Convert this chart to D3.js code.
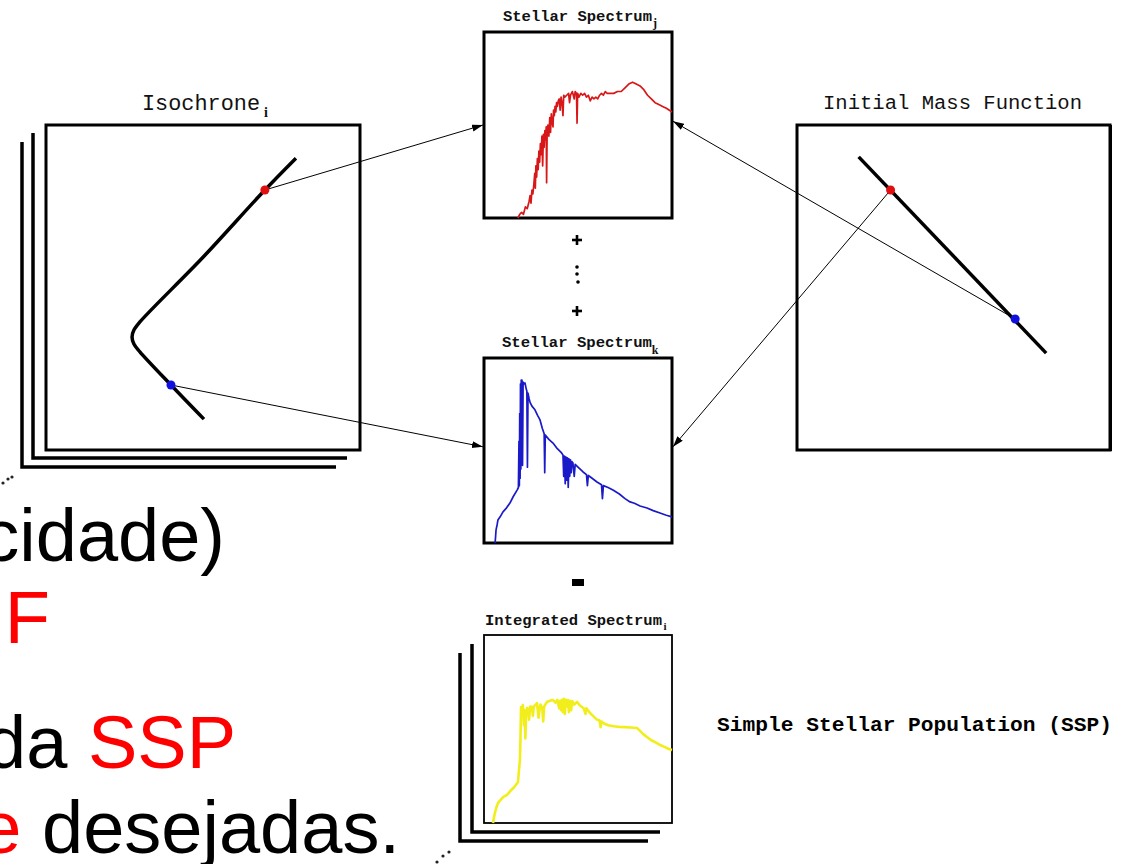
<!DOCTYPE html>
<html><head><meta charset="utf-8">
<script src="https://cdn.jsdelivr.net/npm/d3@7"></script>
<style>html,body{margin:0;padding:0;background:#fff;overflow:hidden}</style>
</head><body>
<svg id="c" width="1121" height="864"></svg>
<script>
// ---------- data (panel-local units 0..100) ----------
const redSpectrum = [[18,0],[19,2],[20,3],[21,2],[22,6],[23,5],[24,9],[24.5,12],[25,8],[25.5,15],[26,13],[26.5,18],[27,24],[27.3,16],[27.6,28],[28,22],[28.4,32],[28.8,26],[29.2,36],[29.6,30],[30,40],[30.4,34],[30.8,44],[31.2,28],[31.6,45],[32,38],[32.4,47],[32.8,42],[33.1,49],[33.3,19],[33.6,48],[34,50],[34.5,44],[35,54],[35.4,46],[35.8,56],[36.2,52],[36.7,49],[37,58],[37.4,55],[37.8,60],[38.2,57],[38.6,62],[39,60],[39.5,63],[40,64],[40.5,58],[41,65],[41.5,62],[42,55],[42.4,66],[43,65],[44,66],[45,67],[45.5,62],[46,66],[47,68],[48,64],[48.5,68],[49.2,67],[49.5,51],[49.8,67],[50.5,65],[51.5,67],[52.5,66],[53.5,67],[54.5,65],[55.5,66],[56.5,63],[57.5,65],[58.5,64],[59.5,65],[60.5,64],[61.5,66],[62.5,67],[63.5,66],[64.5,68],[65.5,67],[67,67],[69,67],[71,68],[73,68],[75,70],[77,72],[79,73],[81,72],[83,71],[85,69],[87,66],[89,64],[91,62],[93,61],[95,60],[97,59],[100,57]];

const blueSpectrum = [[5.9,0],[6.2,4],[6.4,7],[7,10],[7.4,12.4],[8.5,14],[10.1,16.8],[12,19],[13.8,21.6],[15.5,25],[17.6,28.6],[18.3,30],[18.6,55],[18.8,31],[19,70],[19.2,35],[19.4,86],[19.6,40],[19.8,88],[20,45],[20.2,88],[20.5,42],[20.8,87],[21.2,86],[21.8,86.5],[22.3,84],[22.8,82],[23.1,41],[23.4,81],[24,78],[24.5,76],[25.5,74],[27.1,72],[28.5,69],[29.8,66.5],[31,62],[32,59],[32.3,38],[32.6,58.4],[34.5,56],[36.7,54],[39,51],[41,49],[42,47.6],[42.4,36],[42.8,47],[43.2,32],[43.6,46.5],[44,34],[44.4,46],[44.8,30],[45.2,45.5],[45.6,36],[46,45],[46.4,38],[46.8,44],[47.3,43.2],[48,36],[48.5,42.5],[50,41],[52.7,38.4],[54.5,37],[55,31],[55.5,36.5],[57.5,35],[60.1,33],[62.5,31.5],[63,24],[63.5,31],[66,30],[68.6,28.6],[72,26.5],[75,24],[77.7,22.2],[80,21.5],[83,20],[86.7,18.9],[90,17.5],[93.6,16.2],[97,15],[100,14.1]];

const yellowSpectrum = [[4.8,0],[5.5,4],[6.5,8],[7.4,10.6],[9,12.5],[10.5,14],[12.2,14.9],[14,17],[16,19],[18.1,21.8],[18.6,28],[19.1,33.5],[19.4,45],[19.7,61.7],[20.2,60],[20.7,62.8],[21.2,52],[21.6,60],[22,45],[22.4,58],[22.9,61.2],[23.5,60],[24,55],[24.5,62],[25.5,61.7],[26,57],[26.5,62],[27.5,63],[28.2,63.8],[29,56],[29.5,60],[30,63],[31,61],[31.5,54],[32,62],[33.5,64.4],[35,65],[36.7,65.4],[38,64],[39,65.5],[40,61],[40.5,65],[41,60],[41.5,65.5],[42,59],[42.5,66],[43,58],[43.5,65.5],[44.1,62],[44.6,65.4],[45.2,59],[45.7,65],[46.3,60],[47,64.8],[48,63],[49.5,64.4],[51,62.5],[53,61],[54,58],[54.5,61],[56.4,58.5],[58,57],[60,55],[61.5,54.5],[62,51],[62.5,54],[63.3,53.2],[66,52],[69,51.5],[72.3,51.1],[75,51],[78,50.8],[81.4,50.5],[83,49],[85,47],[86.7,45.7],[89,44],[91,43],[93.6,41.5],[96,40.5],[98,39.5],[100,38.8]];

const isochroneCurve = [[79.6,89.8],[69.7,80.0],[50,59.3],[29.9,39.4],[28.0,36.9],[27.4,34.8],[28.0,32.6],[29.9,30.2],[39.8,20.0],[50.3,9.5]];
const imfLine = [[19.7,90.2],[79.6,29.8]];
const isoStars = [{x:69.7,y:80.0,c:"#e01010"},{x:39.8,y:20.0,c:"#1010e0"}];
const imfStars = [{x:29.9,y:80.0,c:"#e01010"},{x:69.7,y:40.3,c:"#1010e0"}];

const panelTitles = ["Isochrone","Initial Mass Function","Stellar Spectrum","Stellar Spectrum","Integrated Spectrum"];
const panelSubs = ["i","","j","k","i"];
const captionText = "Simple Stellar Population (SSP)";
const slideLines = [
  [{t:"cidade)",c:"#000"}],
  [{t:"F",c:"#ff0000"}],
  [{t:"da ",c:"#000"},{t:"SSP",c:"#ff0000"}],
  [{t:"e",c:"#ff0000"},{t:" desejadas.",c:"#000"}]
];

// ---------- layout ----------
const svg = d3.select("#c");
const P = {
  iso:  {x:46, y:125, w:314, h:325},
  imf:  {x:797,y:125, w:313, h:325},
  specJ:{x:484,y:32,  w:188, h:186},
  specK:{x:484,y:358, w:188, h:185},
  integ:{x:484,y:635, w:188, h:188}
};
function scales(p){
  return {x:d3.scaleLinear().domain([0,100]).range([p.x,p.x+p.w]),
          y:d3.scaleLinear().domain([0,100]).range([p.y+p.h,p.y])};
}
const S = {}; for (const k in P) S[k] = scales(P[k]);

svg.append("defs").append("marker").attr("id","ah")
  .attr("markerUnits","userSpaceOnUse").attr("markerWidth",12).attr("markerHeight",8)
  .attr("refX",11).attr("refY",3.5).attr("orient","auto")
  .append("path").attr("d","M0,0L11,3.5L0,7Z").attr("fill","#000");

function stack(p, layers, sw){
  layers.forEach(([dx,dy])=>{
    svg.append("path").attr("fill","none").attr("stroke","#000").attr("stroke-width",sw)
      .attr("d",`M${p.x+dx},${p.y+dy}L${p.x+dx},${p.y+p.h+dy}L${p.x+p.w+dx},${p.y+p.h+dy}`);
  });
}
stack(P.iso, [[-13,8],[-24,17]], 3.5);
stack(P.integ, [[-12,9],[-24,18]], 3.5);

function box(p, sw){
  svg.append("rect").attr("x",p.x).attr("y",p.y).attr("width",p.w).attr("height",p.h)
    .attr("fill","#fff").attr("stroke","#000").attr("stroke-width",sw);
}
box(P.iso,3); box(P.imf,3); box(P.specJ,3); box(P.specK,3); box(P.integ,1.8);
svg.append("line").attr("x1",P.imf.x+P.imf.w+1).attr("x2",P.imf.x+P.imf.w+1)
  .attr("y1",P.imf.y).attr("y2",P.imf.y+P.imf.h+1).attr("stroke","#000").attr("stroke-width",2);

function spec(key, data, color, sw){
  const s = S[key];
  svg.append("path").datum(data).attr("fill","none").attr("stroke",color)
    .attr("stroke-width",sw).attr("stroke-linejoin","round")
    .attr("d", d3.line().x(d=>s.x(d[0])).y(d=>s.y(d[1])));
}
spec("specJ", redSpectrum, "#d81818", 1.7);
spec("specK", blueSpectrum, "#1a1ac8", 1.7);
spec("integ", yellowSpectrum, "#f2ee1c", 2.6);

svg.append("path").datum(isochroneCurve).attr("fill","none").attr("stroke","#000").attr("stroke-width",3.5)
  .attr("d", d3.line().x(d=>S.iso.x(d[0])).y(d=>S.iso.y(d[1])).curve(d3.curveCatmullRom.alpha(0.5)));
svg.append("path").datum(imfLine).attr("fill","none").attr("stroke","#000").attr("stroke-width",3.5)
  .attr("d", d3.line().x(d=>S.imf.x(d[0])).y(d=>S.imf.y(d[1])));

function arrow(x1,y1,x2,y2){
  svg.append("line").attr("x1",x1).attr("y1",y1).attr("x2",x2).attr("y2",y2)
    .attr("stroke","#000").attr("stroke-width",1).attr("marker-end","url(#ah)");
}
arrow(S.iso.x(isoStars[0].x),S.iso.y(isoStars[0].y),S.specJ.x(0)-1,S.specJ.y(50));
arrow(S.iso.x(isoStars[1].x),S.iso.y(isoStars[1].y),S.specK.x(0)-1,S.specK.y(52));
arrow(S.imf.x(imfStars[1].x),S.imf.y(imfStars[1].y),S.specJ.x(100)+1,S.specJ.y(52));
arrow(S.imf.x(imfStars[0].x),S.imf.y(imfStars[0].y),S.specK.x(100)+1,S.specK.y(52));

svg.selectAll(".si").data(isoStars).join("circle").attr("cx",d=>S.iso.x(d.x)).attr("cy",d=>S.iso.y(d.y))
  .attr("r",4.5).attr("fill",d=>d.c);
svg.selectAll(".sm").data(imfStars).join("circle").attr("cx",d=>S.imf.x(d.x)).attr("cy",d=>S.imf.y(d.y))
  .attr("r",4.5).attr("fill",d=>d.c);

const T = [
  {x:142,y:110,len:118,fs:22,w:"normal",sx:266,sy:117,sf:14},
  {x:823,y:109,len:259,fs:20.5,w:"normal",sx:null},
  {x:503,y:21,len:149,fs:15.5,w:"bold",sx:655,sy:27,sf:12},
  {x:502,y:347,len:150,fs:15.5,w:"bold",sx:655,sy:354,sf:12},
  {x:485,y:625,len:177,fs:15.5,w:"bold",sx:665,sy:630,sf:11}
];
panelTitles.forEach((t,i)=>{
  const o=T[i];
  svg.append("text").attr("x",o.x).attr("y",o.y).attr("font-family","Liberation Mono")
    .attr("font-size",o.fs).attr("font-weight",o.w).attr("fill","#111")
    .attr("textLength",o.len).attr("lengthAdjust","spacingAndGlyphs").text(t);
  if(panelSubs[i]) svg.append("text").attr("x",o.sx).attr("y",o.sy).attr("font-family","Liberation Serif")
    .attr("font-size",o.sf).attr("font-weight","bold").attr("fill","#111").attr("text-anchor","middle").text(panelSubs[i]);
});

function plus(cx,cy){
  svg.append("rect").attr("x",cx-5).attr("y",cy-1.3).attr("width",10).attr("height",2.6).attr("fill","#000");
  svg.append("rect").attr("x",cx-1.3).attr("y",cy-5).attr("width",2.6).attr("height",10).attr("fill","#000");
}
plus(577,240); plus(577,311);
[[577,267],[577,274],[578,282]].forEach(d=>svg.append("circle").attr("cx",d[0]).attr("cy",d[1]).attr("r",1.8).attr("fill","#000"));
svg.append("rect").attr("x",572).attr("y",579).attr("width",12).attr("height",7).attr("fill","#000");

[[3,483],[8,479],[12,477],[437,862],[443,856],[449,852]].forEach(d=>
  svg.append("circle").attr("cx",d[0]).attr("cy",d[1]).attr("r",1.6).attr("fill","#222"));

svg.append("text").attr("x",717).attr("y",731).attr("font-family","Liberation Mono").attr("font-weight","bold")
  .attr("font-size",21).attr("textLength",395).attr("lengthAdjust","spacingAndGlyphs").attr("fill","#000").text(captionText);

const slidePos = [{x:225,y:561},{x:50,y:643},{x:236,y:768},{x:400,y:853}];
slideLines.forEach((line,i)=>{
  const t = svg.append("text").attr("x",slidePos[i].x).attr("y",slidePos[i].y).attr("text-anchor","end")
    .attr("font-family","Liberation Sans").attr("font-size",74);
  line.forEach(s=>t.append("tspan").attr("fill",s.c).attr("xml:space","preserve").text(s.t));
});
</script>
</body></html>
